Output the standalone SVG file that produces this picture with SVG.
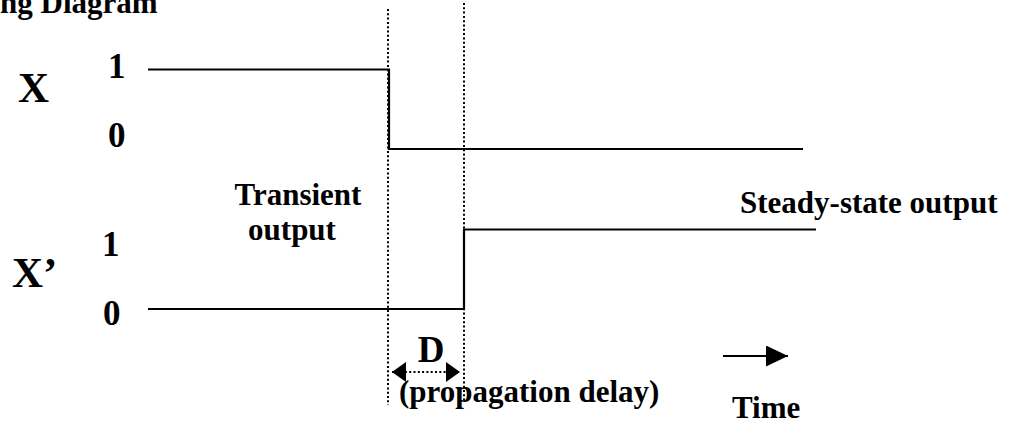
<svg xmlns="http://www.w3.org/2000/svg" width="1018" height="434" viewBox="0 0 1018 434">
  <style>
    text { font-family: "Liberation Serif", "Times New Roman", serif; font-weight: bold; fill: #000; }
    .wave { fill: none; stroke: #000; stroke-width: 2.2; }
    .guide { fill: none; stroke: #000; stroke-width: 2; stroke-dasharray: 2 2.3; }
    .lbl { font-size: 31px; }
    .sig { font-size: 43px; }
    .lvl { font-size: 35px; }
  </style>
  <defs>
    <marker id="head" viewBox="0 0 14 20" refX="14" refY="10" markerWidth="14" markerHeight="20" markerUnits="userSpaceOnUse" orient="auto-start-reverse">
      <path d="M0,0 L14,10 L0,20 Z" fill="#000"/>
    </marker>
    <marker id="headTime" viewBox="0 0 22 21" refX="22" refY="10.5" markerWidth="22" markerHeight="21" markerUnits="userSpaceOnUse" orient="auto">
      <path d="M0,0 L22,10.5 L0,21 Z" fill="#000"/>
    </marker>
  </defs>

  <!-- heading, running off the top-left edge -->
  <text id="title" class="lbl" x="0" y="13">ng Diagram</text>

  <!-- signal names and logic levels -->
  <g id="signal-x">
    <text class="sig" x="18" y="102">X</text>
    <text class="lvl" x="108" y="78">1</text>
    <text class="lvl" x="108" y="147">0</text>
  </g>
  <g id="signal-xbar">
    <text class="sig" x="12" y="287">X’</text>
    <text class="lvl" x="102" y="256">1</text>
    <text class="lvl" x="103" y="325">0</text>
  </g>

  <!-- annotations -->
  <g id="transient">
    <text class="lbl" x="298" y="205" text-anchor="middle">Transient</text>
    <text class="lbl" x="292" y="240" text-anchor="middle">output</text>
  </g>
  <g id="steady-state">
    <text class="lbl" x="740" y="213">Steady-state output</text>
  </g>
  <g id="delay">
    <text x="431" y="362" font-size="37" text-anchor="middle">D</text>
    <text class="lbl" x="399" y="402">(propagation delay)</text>
  </g>
  <g id="time">
    <text class="lbl" x="732" y="418">Time</text>
  </g>

  <!-- waveforms, guides and arrows -->
  <g id="connectors">
    <path class="wave" d="M148,69.5 H389 V149 H803"/>
    <path class="wave" d="M148,309 H464 V229.5 H816"/>
    <line class="guide" x1="388" y1="9" x2="388" y2="405"/>
    <line class="guide" x1="464" y1="3" x2="464" y2="400"/>
    <line class="guide" x1="392" y1="372" x2="460" y2="372" marker-start="url(#head)" marker-end="url(#head)" stroke-dasharray="2 2"/>
    <line x1="723" y1="356" x2="788" y2="356" stroke="#000" stroke-width="2" marker-end="url(#headTime)"/>
  </g>
</svg>
